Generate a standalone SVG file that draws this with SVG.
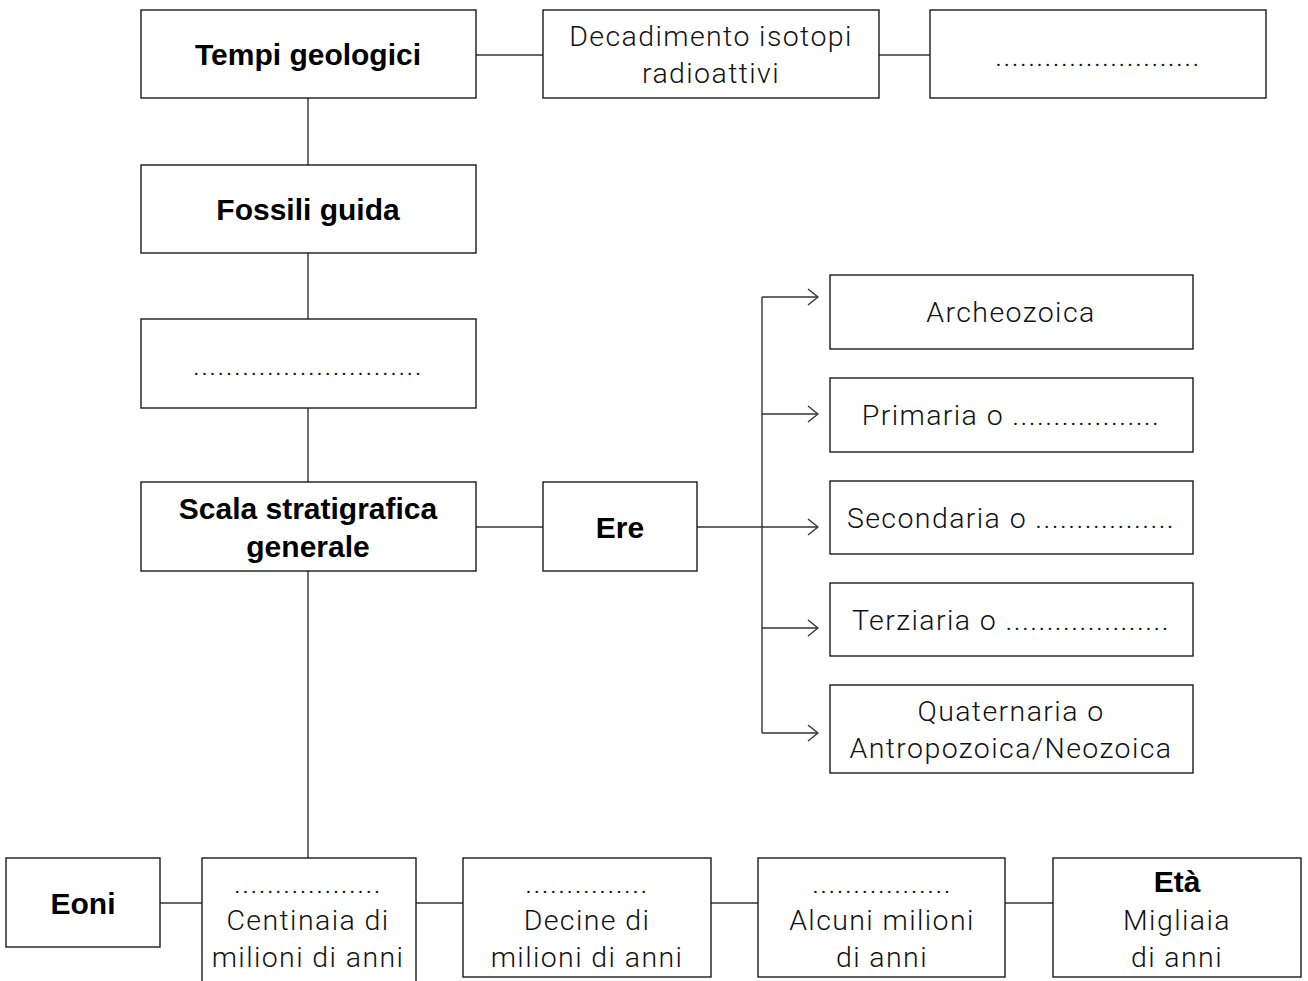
<svg xmlns="http://www.w3.org/2000/svg" width="1308" height="981" viewBox="0 0 1308 981">
<defs>
<style>
.box{fill:#fff;stroke:#1a1a1a;stroke-width:1.4}
.ln{fill:none;stroke:#333;stroke-width:1.4}
.b{font-family:"Liberation Sans",Arial,sans-serif;font-weight:bold;font-size:30px;fill:#000;text-anchor:middle}
.l{font-family:Roboto,"Liberation Sans",sans-serif;font-weight:300;font-size:28.5px;letter-spacing:1.4px;fill:#111;text-anchor:middle}
</style>
<marker id="ar" viewBox="0 0 12 18" refX="11" refY="9" markerWidth="12" markerHeight="18" markerUnits="userSpaceOnUse" orient="auto">
<path d="M1,1 L11,9 L1,17" fill="none" stroke="#333" stroke-width="1.4"/>
</marker>
</defs>
<rect width="1308" height="981" fill="#fff"/>
<g id="connectors">
<line class="ln" x1="476" y1="55" x2="543" y2="55"/>
<line class="ln" x1="879" y1="55" x2="930" y2="55"/>
<line class="ln" x1="308" y1="98" x2="308" y2="165"/>
<line class="ln" x1="308" y1="253" x2="308" y2="319"/>
<line class="ln" x1="308" y1="408" x2="308" y2="482"/>
<line class="ln" x1="308" y1="571" x2="308" y2="858"/>
<line class="ln" x1="476" y1="527" x2="543" y2="527"/>
<line class="ln" x1="697" y1="527" x2="818" y2="527" marker-end="url(#ar)"/>
<line class="ln" x1="762" y1="297" x2="762" y2="733"/>
<line class="ln" x1="762" y1="297" x2="818" y2="297" marker-end="url(#ar)"/>
<line class="ln" x1="762" y1="414" x2="818" y2="414" marker-end="url(#ar)"/>
<line class="ln" x1="762" y1="628" x2="818" y2="628" marker-end="url(#ar)"/>
<line class="ln" x1="762" y1="733" x2="818" y2="733" marker-end="url(#ar)"/>
<line class="ln" x1="160" y1="903" x2="202" y2="903"/>
<line class="ln" x1="416" y1="903" x2="463" y2="903"/>
<line class="ln" x1="711" y1="903" x2="758" y2="903"/>
<line class="ln" x1="1005" y1="903" x2="1053" y2="903"/>
</g>
<g id="tempi"><rect class="box" x="141" y="10" width="335" height="88"/><text class="b" x="308" y="65">Tempi geologici</text></g>
<g id="decadimento"><rect class="box" x="543" y="10" width="336" height="88"/><text class="l" x="711" y="46">Decadimento isotopi</text><text class="l" x="711" y="83">radioattivi</text></g>
<g id="dots1"><rect class="box" x="930" y="10" width="336" height="88"/><text class="l" x="1098" y="66">.........................</text></g>
<g id="fossili"><rect class="box" x="141" y="165" width="335" height="88"/><text class="b" x="308" y="220">Fossili guida</text></g>
<g id="dots2"><rect class="box" x="141" y="319" width="335" height="89"/><text class="l" x="308" y="375">............................</text></g>
<g id="scala"><rect class="box" x="141" y="482" width="335" height="89"/><text class="b" x="308" y="519">Scala stratigrafica</text><text class="b" x="308" y="557">generale</text></g>
<g id="ere"><rect class="box" x="543" y="482" width="154" height="89"/><text class="b" x="620" y="538">Ere</text></g>
<g id="archeozoica"><rect class="box" x="830" y="275" width="363" height="74"/><text class="l" x="1011" y="322">Archeozoica</text></g>
<g id="primaria"><rect class="box" x="830" y="378" width="363" height="74"/><text class="l" x="1011" y="425">Primaria o ..................</text></g>
<g id="secondaria"><rect class="box" x="830" y="481" width="363" height="73"/><text class="l" x="1011" y="528">Secondaria o .................</text></g>
<g id="terziaria"><rect class="box" x="830" y="583" width="363" height="73"/><text class="l" x="1011" y="630">Terziaria o ....................</text></g>
<g id="quaternaria"><rect class="box" x="830" y="685" width="363" height="88"/><text class="l" x="1011" y="721">Quaternaria o</text><text class="l" x="1011" y="758">Antropozoica/Neozoica</text></g>
<g id="eoni"><rect class="box" x="6" y="858" width="154" height="89"/><text class="b" x="83" y="914">Eoni</text></g>
<g id="centinaia"><rect class="box" x="202" y="858" width="214" height="140"/><text class="l" x="308" y="893">..................</text><text class="l" x="308" y="930">Centinaia di</text><text class="l" x="308" y="967">milioni di anni</text></g>
<g id="decine"><rect class="box" x="463" y="858" width="248" height="119"/><text class="l" x="587" y="893">...............</text><text class="l" x="587" y="930">Decine di</text><text class="l" x="587" y="967">milioni di anni</text></g>
<g id="alcuni"><rect class="box" x="758" y="858" width="247" height="119"/><text class="l" x="882" y="893">.................</text><text class="l" x="882" y="930">Alcuni milioni</text><text class="l" x="882" y="967">di anni</text></g>
<g id="eta"><rect class="box" x="1053" y="858" width="248" height="119"/><text class="b" x="1177" y="892">Età</text><text class="l" x="1177" y="930">Migliaia</text><text class="l" x="1177" y="967">di anni</text></g>
</svg>
